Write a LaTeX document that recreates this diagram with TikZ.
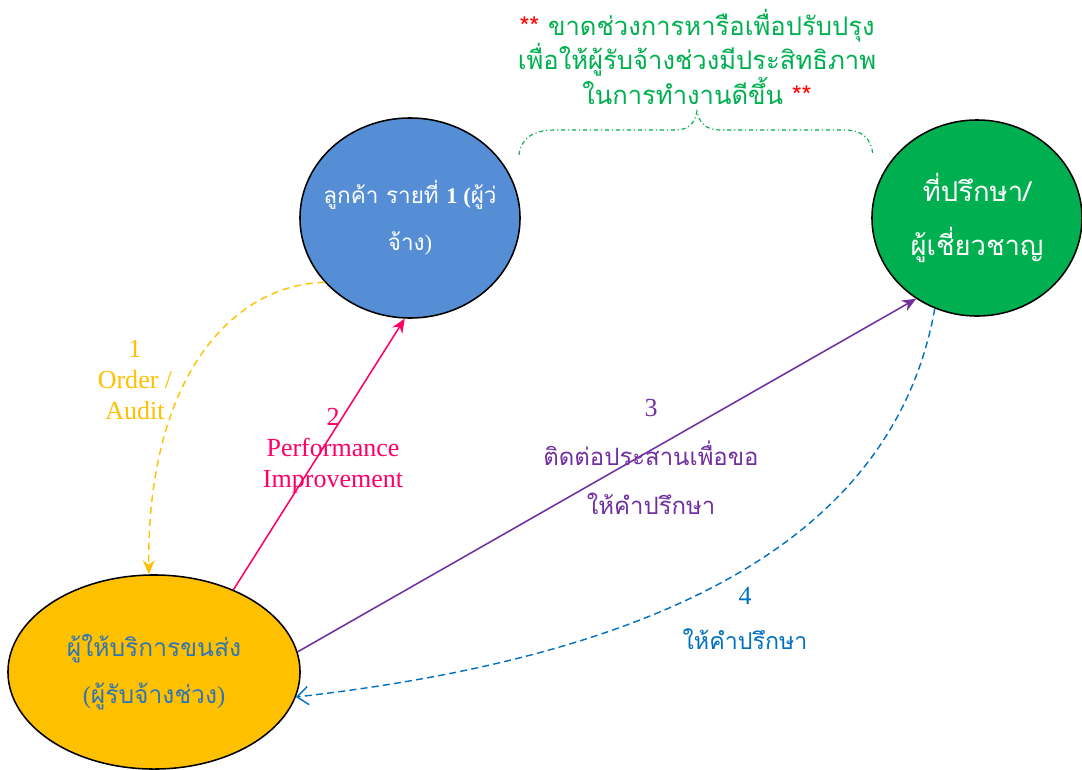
\documentclass[tikz,border=0pt]{standalone}
\usepackage{fontspec}
\setmainfont{Liberation Serif}
\newfontfamily\thaifont[Script=Thai]{Loma}
\usetikzlibrary{shapes.geometric, arrows.meta}

\definecolor{clientblue}{HTML}{558ED5}
\definecolor{expertgreen}{HTML}{00B050}
\definecolor{carrieryellow}{HTML}{FFC000}
\definecolor{carriertext}{HTML}{2E75B6}
\definecolor{perfpink}{HTML}{FF0066}
\definecolor{askpurple}{HTML}{7030A0}
\definecolor{adviceblue}{HTML}{0070C0}

\begin{document}
\begin{tikzpicture}[x=0.025cm, y=-0.025cm,
	bubble/.style={ellipse, draw=black, line width=1.1pt, inner sep=0pt, align=center},
	thaitext/.style={font=\thaifont\fontsize{16}{33}\selectfont},
	lattext/.style={font=\fontsize{18.5}{22}\selectfont, align=center},
	tip/.style={-{Stealth[length=10pt, width=8.5pt]}}]
	\useasboundingbox (0,0) rectangle (1082,769);

	\node (client) [bubble, fill=clientblue, minimum width=5.5cm, minimum height=5cm, inner xsep=-7pt, text=white, thaitext] at (410,218) {ลูกค้า รายที่ {\rmfamily\fontsize{16}{33}\selectfont\bfseries 1 (}ผู้ว่\\จ้าง{\rmfamily\fontsize{16}{33}\selectfont )}};
	\node (expert) [bubble, fill=expertgreen, minimum width=5.25cm, minimum height=4.9cm, text=white, font=\thaifont\fontsize{19.5}{39}\selectfont] at (977,218) {ที่ปรึกษา/\\ผู้เชี่ยวชาญ};
	\node (carrier) [bubble, fill=carrieryellow, minimum width=7.3cm, minimum height=4.85cm, text=carriertext, font=\thaifont\fontsize{17.5}{33}\selectfont] at (154,672) {ผู้ให้บริการขนส่ง\\{\rmfamily\fontsize{17.5}{33}\selectfont (}ผู้รับจ้างช่วง{\rmfamily\fontsize{17.5}{33}\selectfont )}};

	% Note on top
	\node (note) [align=center, text=expertgreen, font=\thaifont\fontsize{18.2}{23.5}\selectfont] at (697,57) {{\color{red}**} ขาดช่วงการหารือเพื่อปรับปรุง\\เพื่อให้ผู้รับจ้างช่วงมีประสิทธิภาพ\\ในการทำงานดีขึ้น {\color{red}**}};
	\draw [expertgreen, line width=0.8pt, dash pattern=on 3pt off 2pt on 0.8pt off 2pt] (519,155) .. controls (521,137) and (535,130) .. (555,130) -- (675,130) .. controls (690,130) and (695,122) .. (697,111) .. controls (699,122) and (705,130) .. (720,130) -- (845,130) .. controls (862,130) and (871,138) .. (873,155);

	% Labels
	\node (lblorder) [lattext, text=carrieryellow] at (135,380) {1\\Order /\\Audit};
	\node (lblperf) [lattext, text=perfpink] at (333,451) {2\\Performance\\Improvement};
	\node (lblask) [align=center, text=askpurple, font=\thaifont\fontsize{17}{35}\selectfont] at (651,457) {{\rmfamily\fontsize{18.5}{35}\selectfont 3}\\ติดต่อประสานเพื่อขอ\\ให้คำปรึกษา};
	\node (lbladvice) [align=center, text=adviceblue, font=\thaifont\fontsize{16.5}{32}\selectfont] at (745,618) {{\rmfamily\fontsize{18.5}{32}\selectfont 4}\\ให้คำปรึกษา};

	% Arrows
	\draw [tip, carrieryellow, line width=1pt, dash pattern=on 5pt off 3.5pt] (client.217) .. controls (230,285) and (147,380) .. (carrier.93);
	\draw [tip, perfpink, line width=1.1pt] (carrier.46) -- (client.267);
	\draw [tip, askpurple, line width=1.1pt] (carrier.8) -- (expert.233);
	\draw [adviceblue, line width=1pt, dash pattern=on 5pt off 3pt, -{Straight Barb[length=8pt, width=13pt]}] (expert.245) .. controls (890,560) and (620,660) .. (carrier.-10);
\end{tikzpicture}
\end{document}
